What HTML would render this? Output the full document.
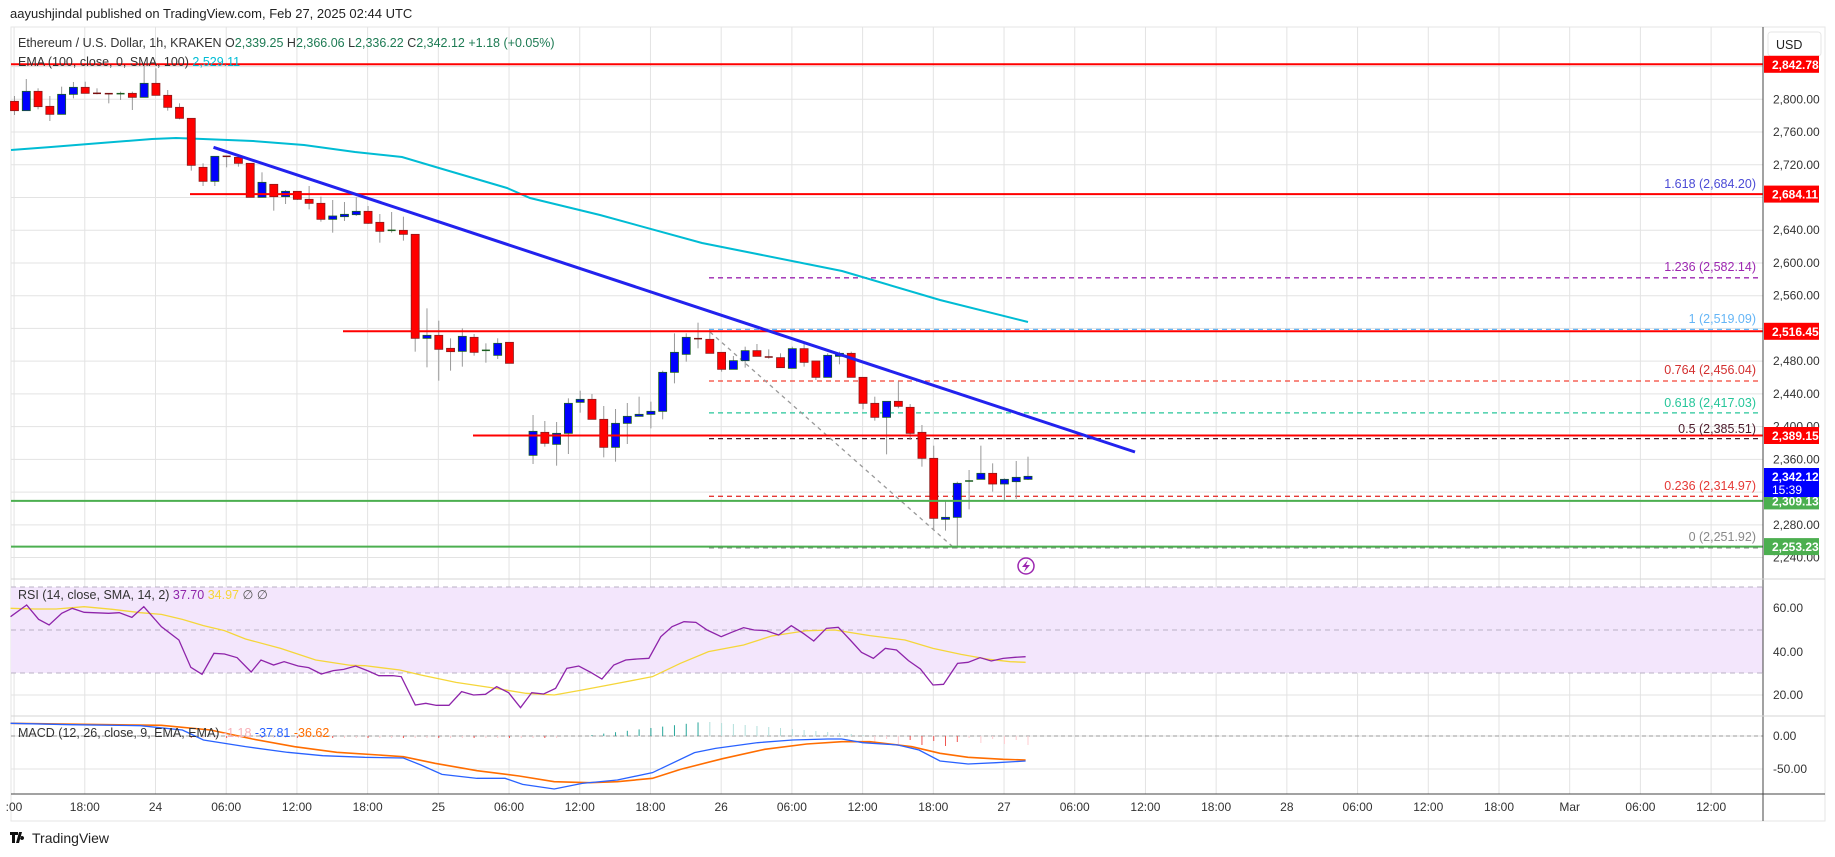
<!DOCTYPE html>
<html><head><meta charset="utf-8">
<style>
html,body{margin:0;padding:0;background:#fff;}
body{width:1835px;height:857px;overflow:hidden;position:relative;font-family:"Liberation Sans",sans-serif;}
svg{position:absolute;left:0;top:0;}
svg text{font-family:"Liberation Sans",sans-serif;}
</style></head><body>
<svg id="s" width="1835" height="857" viewBox="0 0 1835 857" xmlns="http://www.w3.org/2000/svg">
<rect x="0" y="0" width="1835" height="857" fill="#fff"/>
<rect x="11" y="27" width="1814" height="794" fill="#fff" stroke="#e6e6e6"/>
<g id="grid"></g>
<rect x="11" y="587" width="1752" height="86" fill="#f3e6fc"/>
<g id="rsigrid"></g>
<g id="ind"></g>
<g id="main"></g>
<line x1="1763" y1="27" x2="1763" y2="821" stroke="#444" stroke-width="1"/>
<line x1="11" y1="579" x2="1825" y2="579" stroke="#d6d6d6"/>
<line x1="11" y1="716" x2="1825" y2="716" stroke="#d6d6d6"/>
<line x1="11" y1="794" x2="1825" y2="794" stroke="#444"/>
<g id="axis" font-size="12" fill="#333"></g>
<text x="10" y="18" font-size="13" fill="#222">aayushjindal published on TradingView.com, Feb 27, 2025 02:44 UTC</text>
<text x="18" y="47" font-size="12.5" fill="#333">Ethereum / U.S. Dollar, 1h, KRAKEN  <tspan>O</tspan><tspan fill="#1e7b54">2,339.25</tspan>  H<tspan fill="#1e7b54">2,366.06</tspan>  L<tspan fill="#1e7b54">2,336.22</tspan>  C<tspan fill="#1e7b54">2,342.12</tspan> <tspan fill="#1e7b54">+1.18 (+0.05%)</tspan></text>
<text x="18" y="66" font-size="12.5" fill="#333">EMA (100, close, 0, SMA, 100) <tspan fill="#00bcd4">2,529.11</tspan></text>
<text x="18" y="599" font-size="12.5" fill="#333">RSI (14, close, SMA, 14, 2) <tspan fill="#8e24aa">37.70</tspan> <tspan fill="#f5d63a">34.97</tspan> <tspan fill="#555">∅ ∅</tspan></text>
<text x="18" y="737" font-size="12.5" fill="#333">MACD (12, 26, close, 9, EMA, EMA) <tspan fill="#f8b0b8">-1.18</tspan> <tspan fill="#2962ff">-37.81</tspan> <tspan fill="#ff6d00">-36.62</tspan></text>
<g font-size="12.5" text-anchor="end">
<text x="1756" y="188" fill="#4b4bd6">1.618 (2,684.20)</text>
<text x="1756" y="271" fill="#9c27b0">1.236 (2,582.14)</text>
<text x="1756" y="323" fill="#64b5f6">1 (2,519.09)</text>
<text x="1756" y="374" fill="#d32f2f">0.764 (2,456.04)</text>
<text x="1756" y="407" fill="#26c69a">0.618 (2,417.03)</text>
<text x="1756" y="433" fill="#4a1a2a">0.5 (2,385.51)</text>
<text x="1756" y="490" fill="#e53935">0.236 (2,314.97)</text>
<text x="1756" y="541" fill="#888">0 (2,251.92)</text>
</g>
<rect x="1768" y="32" width="53" height="24" rx="3" fill="#fff" stroke="#e6e6e6"/>
<text x="1776" y="49" font-size="12.5" fill="#222">USD</text>
<g id="tags" font-size="12" font-weight="bold" fill="#fff"></g>
<g id="time" font-size="12" fill="#333" text-anchor="middle"></g>
<circle cx="1026" cy="566" r="8" fill="#fff" stroke="#9c27b0" stroke-width="1.5"/>
<path d="M1028 560 L1022 567 L1026 567 L1024 572 L1030 565 L1026 565 Z" fill="#9c27b0"/>
<path d="M10 832 h8 v3 h-3 v8 h-3 v-8 h-2z M19 832 h3 l-3 11 h-3z M22 836 a2 2 0 1 0 0.1 0z" fill="#111"/>
<text x="32" y="843" font-size="14" fill="#222">TradingView</text>
</svg>
<script>
const NS="http://www.w3.org/2000/svg";
function el(p,t,a){const e=document.createElementNS(NS,t);for(const k in a)e.setAttribute(k,a[k]);document.getElementById(p).appendChild(e);return e;}
const PY=p=>99.3+(2800-p)*0.8183;
for(let k=-2;k<=22;k++){const x=155.5+70.71*k;el('grid','line',{x1:x,y1:27,x2:x,y2:794,stroke:'#e3e3e3'});}
for(let p=2840;p>=2240;p-=40){const y=PY(p);el('grid','line',{x1:11,y1:y,x2:1763,y2:y,stroke:'#e3e3e3'});}
[608,652,695].forEach(y=>el('grid','line',{x1:11,y1:y,x2:1763,y2:y,stroke:'#e3e3e3'}));
[736,769].forEach(y=>el('grid','line',{x1:11,y1:y,x2:1763,y2:y,stroke:'#e3e3e3'}));
[587,630,673].forEach(y=>el('rsigrid','line',{x1:11,y1:y,x2:1763,y2:y,stroke:'#b9b0c4','stroke-dasharray':'5,4'}));
el('rsigrid','line',{x1:11,y1:736,x2:1763,y2:736,stroke:'#999','stroke-dasharray':'4,3'});
const hide=[2840,2680,2520,2320];
for(let p=2800;p>=2240;p-=40){if(hide.includes(p))continue;const t=el('axis','text',{x:1773,y:PY(p)+4});t.textContent=p.toLocaleString('en-US')+'.00';}
[[608,'60.00'],[652,'40.00'],[695,'20.00'],[736,'0.00'],[769,'-50.00']].forEach(a=>{const t=el('axis','text',{x:1773,y:a[0]+4});t.textContent=a[1];});
const tl=['12:00','18:00','24','06:00','12:00','18:00','25','06:00','12:00','18:00','26','06:00','12:00','18:00','27','06:00','12:00','18:00','28','06:00','12:00','18:00','Mar','06:00','12:00'];
tl.forEach((s,i)=>{const x=155.5+70.71*(i-2);if(x<20)return;const t=el('time','text',{x:x,y:811});t.textContent=s;});
const tt=el('time','text',{x:14,y:811});tt.textContent=':00';
[[194.1,'#4b4bd6'],[277.8,'#9c27b0'],[329.4,'#64b5f6'],[381,'#f44336'],[412.9,'#26c69a'],[438.6,'#4a1a2a'],[496.3,'#e53935'],[547.9,'#888']].forEach(f=>el('main','line',{x1:709,y1:f[0],x2:1760,y2:f[0],stroke:f[1],'stroke-width':1.3,'stroke-dasharray':'5,4'}));
el('main','line',{x1:710,y1:332,x2:953,y2:547,stroke:'#999','stroke-width':1.3,'stroke-dasharray':'4,4'});
const ema=[[11,150],[51,147],[101,143],[152,139],[176,138],[203,139],[253,141],[304,145],[355,152],[402,157],[439,168],[507,188],[530,198],[600,215],[702,243],[842,271],[940,300],[1028,322]];
el('main','polyline',{points:ema.map(p=>p.join(',')).join(' '),fill:'none',stroke:'#00bcd4','stroke-width':2});
const A=[['r',124,152,108,165],['b',94,152,57,152],['r',94,140,85,148],['r',139,163,108,183],['b',103,163,80,163],['b',82,103,66,115],['r',82,100,65,100],['r',100,100,85,103],['r',101,101,100,130],['g',101,101,95,120],['r',100,112,95,150],['b',70,112,10,112],['r',70,106,25,106],['r',106,142,90,152],['r',142,175,130,178],['r',175,316,175,332],['r',322,364,310,378],['b',289,364,289,378],['r',289,289,289,322],['r',292,310,285,320],['r',310,412,310,412],['b',367,412,337,412],['r',373,410,373,452],['b',394,410,390,432],['r',394,418,394,420],['r',418,430,378,448],['r',430,478,410,485],['b',468,478,420,518],['b',463,470,426,483],['b',454,464,412,468],['r',454,490,438,492],['r',487,514,462,548],['g',511,511,456,518],['r',511,523,470,542],['r',523,835,523,875],['b',826,835,745,922],['r',826,868,782,962],['r',865,875,835,932],['b',829,874,805,920],['r',832,877,822,887],['g',871,871,850,908],['b',850,886,835,897],['r',847,910,847,910]];
const B=[['r',190,463,180,605],['b',394,466,345,492],['r',397,430,363,440],['b',400,433,366,497],['b',310,400,295,462],['b',298,307,272,338],['r',298,358,282,358],['r',358,442,318,472],['b',370,442,327,485],['b',349,370,309,432],['b',343,349,290,349],['b',334,343,305,385],['b',217,334,212,358],['b',157,217,100,250],['b',112,163,100,185],['d',116,116,68,145],['r',118,160,90,160],['r',157,208,157,215],['b',182,208,168,208],['b',152,182,140,203],['r',152,169,132,169],['r',171,171,148,176],['r',173,203,160,203],['b',146,205,140,205],['r',146,187,132,200],['r',183,232,183,240],['b',166,232,160,232],['b',160,169,155,193],['r',160,232,155,232],['r',232,310,232,328],['r',310,352,290,362],['b',304,352,304,463],['r',304,319,244,325],['r',322,400,312,420],['r',397,475,375,500],['r',475,655,437,690],['b',652,658,600,692],['b',550,652,545,745],['g',543,543,510,628],['b',520,538,437,538],['r',520,552,490,575],['b',538,552,535,600],['b',532,545,483,597],['b',529,538,470,540]];
function candle(i,c,off){const x=14.5+11.785*i;const t=off+c[1]/3,b=off+c[2]/3,h=off+c[3]/3,l=off+c[4]/3;
 el('main','line',{x1:x,y1:h,x2:x,y2:l,stroke:'#999','stroke-width':1});
 if(b-t<1.5){el('main','rect',{x:x-4,y:t-0.75,width:8,height:1.5,fill:c[0]=='g'?'#1b5e20':'#7a1010'});return;}
 el('main','rect',{x:x-4,y:t,width:8,height:b-t,fill:c[0]=='r'?'#ff0000':'#0000ff',stroke:c[0]=='r'?'#8b1a1a':'#1b5e20','stroke-width':0.8});}
A.forEach((c,i)=>candle(i,c,60));
B.forEach((c,i)=>{if(i>0)candle(43+i,c,300);});
[[64.3,11],[194.1,190],[331.3,343],[435.5,473]].forEach(h=>el('main','line',{x1:h[1],y1:h[0],x2:1763,y2:h[0],stroke:'#ff0000','stroke-width':2}));
[500.9,546.6].forEach(y=>el('main','line',{x1:11,y1:y,x2:1763,y2:y,stroke:'#4caf50','stroke-width':2}));
el('main','line',{x1:213.5,y1:147.3,x2:1135,y2:452,stroke:'#2222ee','stroke-width':3});
[[64.3,'2,842.78','#ff0000'],[194.1,'2,684.11','#ff0000'],[331.3,'2,516.45','#ff0000'],[435.5,'2,389.15','#ff0000'],[500.9,'2,309.13','#4caf50'],[546.6,'2,253.23','#4caf50']].forEach(t=>{el('tags','rect',{x:1764,y:t[0]-8.5,width:55,height:17,fill:t[2]});const e=el('tags','text',{x:1772,y:t[0]+4.5});e.textContent=t[1];});
el('tags','rect',{x:1764,y:468,width:55,height:29,fill:'#0000ff'});
let e=el('tags','text',{x:1772,y:481});e.textContent='2,342.12';
e=el('tags','text',{x:1772,y:494,'font-weight':'normal'});e.textContent='15:39';
// RSI / MACD from zoom coords
const Z=(x,y)=>[x/1.4255,560+y/3];
const rsi=[[15,170],[38,135],[55,178],[70,195],[88,160],[103,145],[120,157],[155,160],[170,158],[188,172],[205,140],[230,200],[255,240],[272,322],[288,343],[305,280],[320,282],[338,293],[358,336],[372,300],[390,315],[405,305],[425,318],[440,323],[458,342],[475,332],[490,328],[507,318],[525,333],[540,347],[560,347],[572,350],[592,435],[607,430],[622,436],[640,436],[658,395],[675,405],[692,403],[708,380],[725,398],[742,443],[758,398],[775,402],[792,385],[808,325],[825,318],[842,337],[858,357],[875,315],[892,300],[908,297],[925,295],[942,230],[958,200],[975,185],[992,187],[1008,210],[1028,230],[1043,217],[1060,203],[1075,210],[1092,212],[1110,225],[1128,197],[1145,220],[1160,243],[1178,205],[1195,202],[1212,240],[1228,277],[1245,295],[1262,265],[1278,270],[1295,302],[1312,327],[1330,375],[1345,373],[1365,310],[1380,307],[1397,293],[1413,303],[1430,295],[1447,292],[1462,290]];
const ma=[[15,145],[50,147],[80,147],[120,140],[160,148],[200,158],[230,163],[260,178],[290,197],[320,212],[350,237],[400,265],[450,300],[500,316],[520,317],[570,330],[600,345],[650,367],[700,383],[750,400],[790,405],[830,390],[880,370],[930,350],[970,310],[1010,275],[1060,255],[1100,228],[1150,212],[1190,210],[1240,227],[1290,240],[1330,265],[1370,283],[1410,298],[1440,305],[1462,307]];
el('ind','polyline',{points:ma.map(p=>Z(...p).join(',')).join(' '),fill:'none',stroke:'#f5d63a','stroke-width':1.3});
el('ind','polyline',{points:rsi.map(p=>Z(...p).join(',')).join(' '),fill:'none',stroke:'#8e24aa','stroke-width':1.3});
const mb=[[15,490],[100,494],[200,497],[260,510],[290,540],[350,560],[410,577],[460,587],[520,592],[575,594],[600,615],[630,643],[680,655],[720,655],[745,673],[790,687],[830,670],[880,660],[930,638],[990,578],[1020,565],[1080,548],[1130,540],[1180,537],[1200,537],[1230,548],[1280,555],[1310,570],[1340,603],[1380,612],[1420,608],[1462,603]];
const mo=[[15,490],[230,496],[300,510],[360,537],[420,560],[480,577],[540,585],[575,590],[620,610],[680,632],[740,648],[790,665],[840,668],[880,665],[930,655],[970,628],[1030,596],[1090,568],[1150,552],[1200,545],[1240,545],[1300,560],[1340,580],[1380,592],[1430,598],[1462,600]];
for(let i=0;i<87;i++){const x=14.5+11.785*i;let v=0,c='#ef5350';
 if(i>=15&&i<=46){v=-(2+((i*7)%7)*1.2);c=(i%3==0)?'#ef5350':'#ffcdd2';}
 else if(i>=49&&i<=58){v=1+(i-49)*1.4;c='#26a69a';}
 else if(i>=59&&i<=72){v=14-(i-59)*1;c='#b2dfdb';}
 else if(i>=73){v=-(2+((i*5)%9));c=(i>=76&&i<=80)?'#ef5350':'#ffcdd2';}
 if(v)el('ind','line',{x1:x,y1:736,x2:x,y2:736-v,stroke:c,'stroke-width':1});}
el('ind','polyline',{points:mo.map(p=>Z(...p).join(',')).join(' '),fill:'none',stroke:'#ff6d00','stroke-width':1.6});
el('ind','polyline',{points:mb.map(p=>Z(...p).join(',')).join(' '),fill:'none',stroke:'#2962ff','stroke-width':1.3});
</script>
</body></html>
